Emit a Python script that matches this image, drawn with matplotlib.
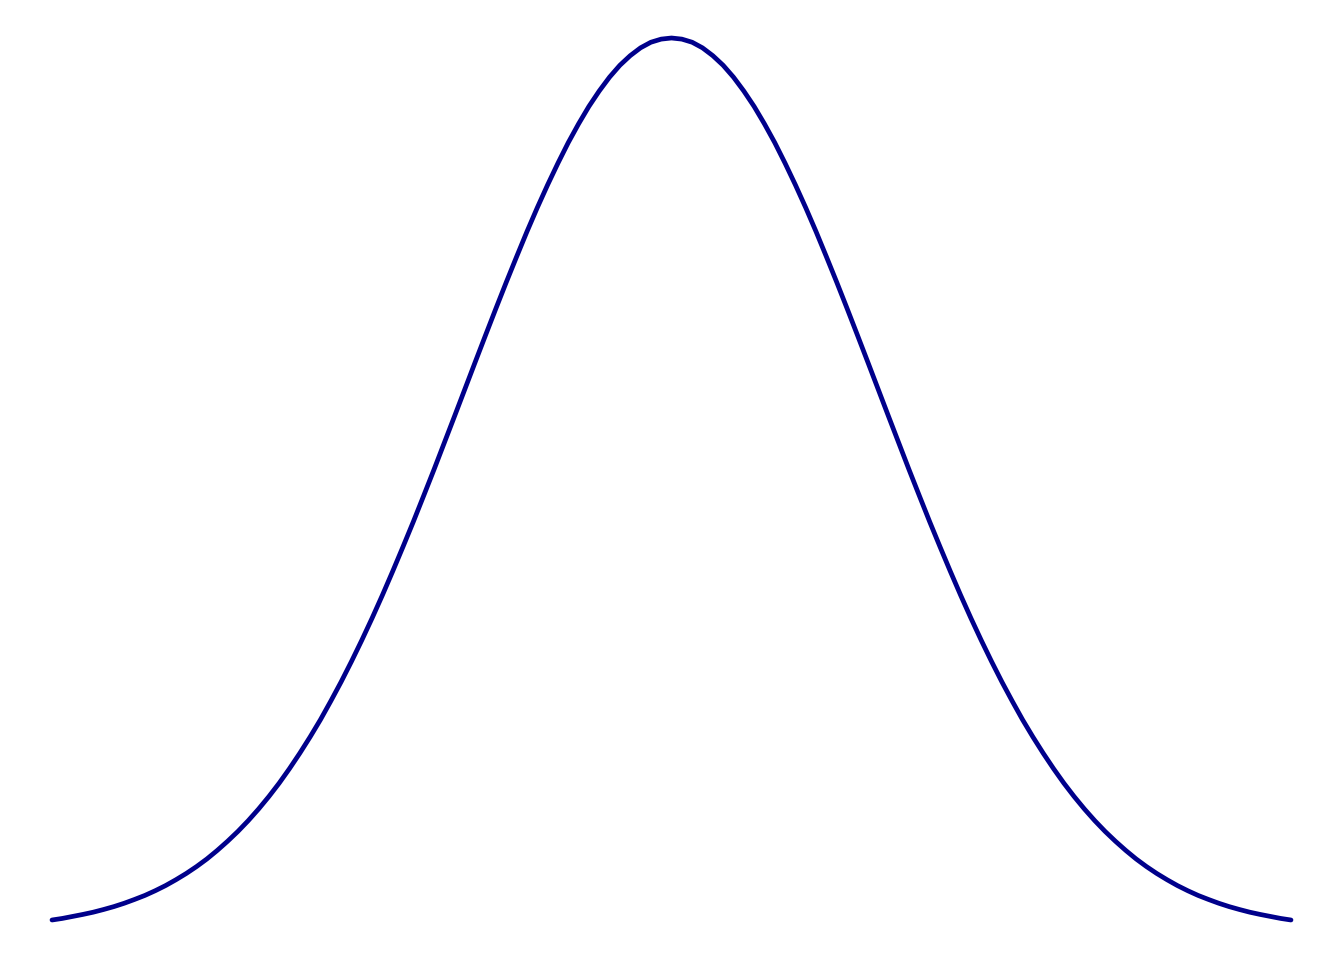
import matplotlib
matplotlib.use("Agg")
import matplotlib.pyplot as plt

# x positions (step 0.05) and density values
x_vals = [round(-3 + 0.05 * i, 2) for i in range(121)]
half = [0.0044, 0.0051, 0.0060, 0.0069, 0.0079, 0.0091, 0.0104, 0.0119, 0.0136, 0.0154,
        0.0175, 0.0198, 0.0224, 0.0252, 0.0283, 0.0317, 0.0355, 0.0396, 0.0440, 0.0488,
        0.0540, 0.0596, 0.0656, 0.0721, 0.0790, 0.0863, 0.0940, 0.1023, 0.1109, 0.1200,
        0.1295, 0.1394, 0.1497, 0.1604, 0.1714, 0.1826, 0.1942, 0.2059, 0.2179, 0.2299,
        0.2420, 0.2541, 0.2661, 0.2780, 0.2897, 0.3011, 0.3123, 0.3230, 0.3332, 0.3429,
        0.3521, 0.3605, 0.3683, 0.3752, 0.3814, 0.3867, 0.3910, 0.3945, 0.3970, 0.3984]
peak = 0.3989
y_vals = half + [peak] + half[::-1]

fig = plt.figure(figsize=(13.44, 9.6), dpi=100)
ax = fig.add_axes([52 / 1344, 40 / 960, (1291 - 52) / 1344, (920 - 38) / 960])
ax.plot(x_vals, y_vals, color="#00008B", lw=3.4, solid_capstyle="round",
        solid_joinstyle="round", clip_on=False)
ax.set_xlim(min(x_vals), max(x_vals))
ax.set_ylim(min(y_vals), max(y_vals))
ax.axis("off")

fig.savefig("out.png", dpi=100)
